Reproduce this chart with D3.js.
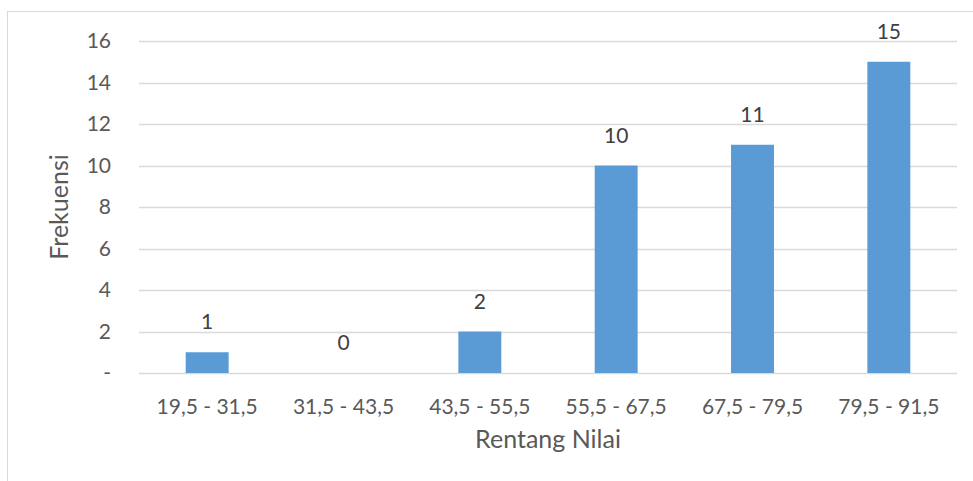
<!DOCTYPE html>
<html><head><meta charset="utf-8">
<script src="https://cdn.jsdelivr.net/npm/d3@7"></script>
<style>body{margin:0;background:#fff}svg{display:block}text{font-family:Lato,"Open Sans",sans-serif}</style>
</head><body><svg id="c" width="973" height="481"></svg>
<script>
const categories = ["19,5 - 31,5","31,5 - 43,5","43,5 - 55,5","55,5 - 67,5","67,5 - 79,5","79,5 - 91,5"];
const values = [1,0,2,10,11,15];
const yTicks = [0,2,4,6,8,10,12,14,16];
const yTickLabels = ["-","2","4","6","8","10","12","14","16"];
const xTitle = "Rentang Nilai";
const yTitle = "Frekuensi";

const svg = d3.select("#c");
const mL = 139, mR = 957, mT = 41, mB = 373;
svg.append("rect").attr("x",7.5).attr("y",11.5).attr("width",990).attr("height",500)
  .attr("fill","#fff").attr("stroke","#d9d9d9");

const x = d3.scaleBand().domain(categories).range([mL,mR]);
const y = d3.scaleLinear().domain([0,16]).range([mB,mT]);
const bw = x.step()*0.315;

svg.append("g").selectAll("line").data(yTicks).join("line")
  .attr("x1",mL).attr("x2",mR).attr("y1",d=>Math.round(y(d))+0.5).attr("y2",d=>Math.round(y(d))+0.5)
  .attr("stroke","#d9d9d9").attr("stroke-width",1.5);

svg.append("g").selectAll("text").data(yTicks).join("text")
  .attr("x",111).attr("y",d=>y(d)).attr("dy","0.35em").attr("text-anchor","end")
  .attr("font-size",21).attr("fill","#595959").text((d,i)=>yTickLabels[i]);

svg.append("g").selectAll("rect").data(values).join("rect")
  .attr("x",(d,i)=>x(categories[i])+x.bandwidth()/2-bw/2).attr("width",bw)
  .attr("y",d=>y(d)).attr("height",d=>y(0)-y(d)).attr("fill","#5b9bd5");

svg.append("g").selectAll("text").data(values).join("text")
  .attr("x",(d,i)=>x(categories[i])+x.bandwidth()/2).attr("y",d=>y(d)-23)
  .attr("text-anchor","middle").attr("font-size",21).attr("fill","#404040").text(d=>d);

svg.append("g").selectAll("text").data(categories).join("text")
  .attr("x",d=>x(d)+x.bandwidth()/2).attr("y",414).attr("text-anchor","middle")
  .attr("font-size",21).attr("fill","#595959").text(d=>d);

svg.append("text").attr("x",(mL+mR)/2).attr("y",448).attr("text-anchor","middle")
  .attr("font-size",25).attr("fill","#595959").text(xTitle);
svg.append("text").attr("transform",`translate(68,${(mT+mB)/2}) rotate(-90)`).attr("text-anchor","middle")
  .attr("font-size",25).attr("fill","#595959").text(yTitle);
</script></body></html>
